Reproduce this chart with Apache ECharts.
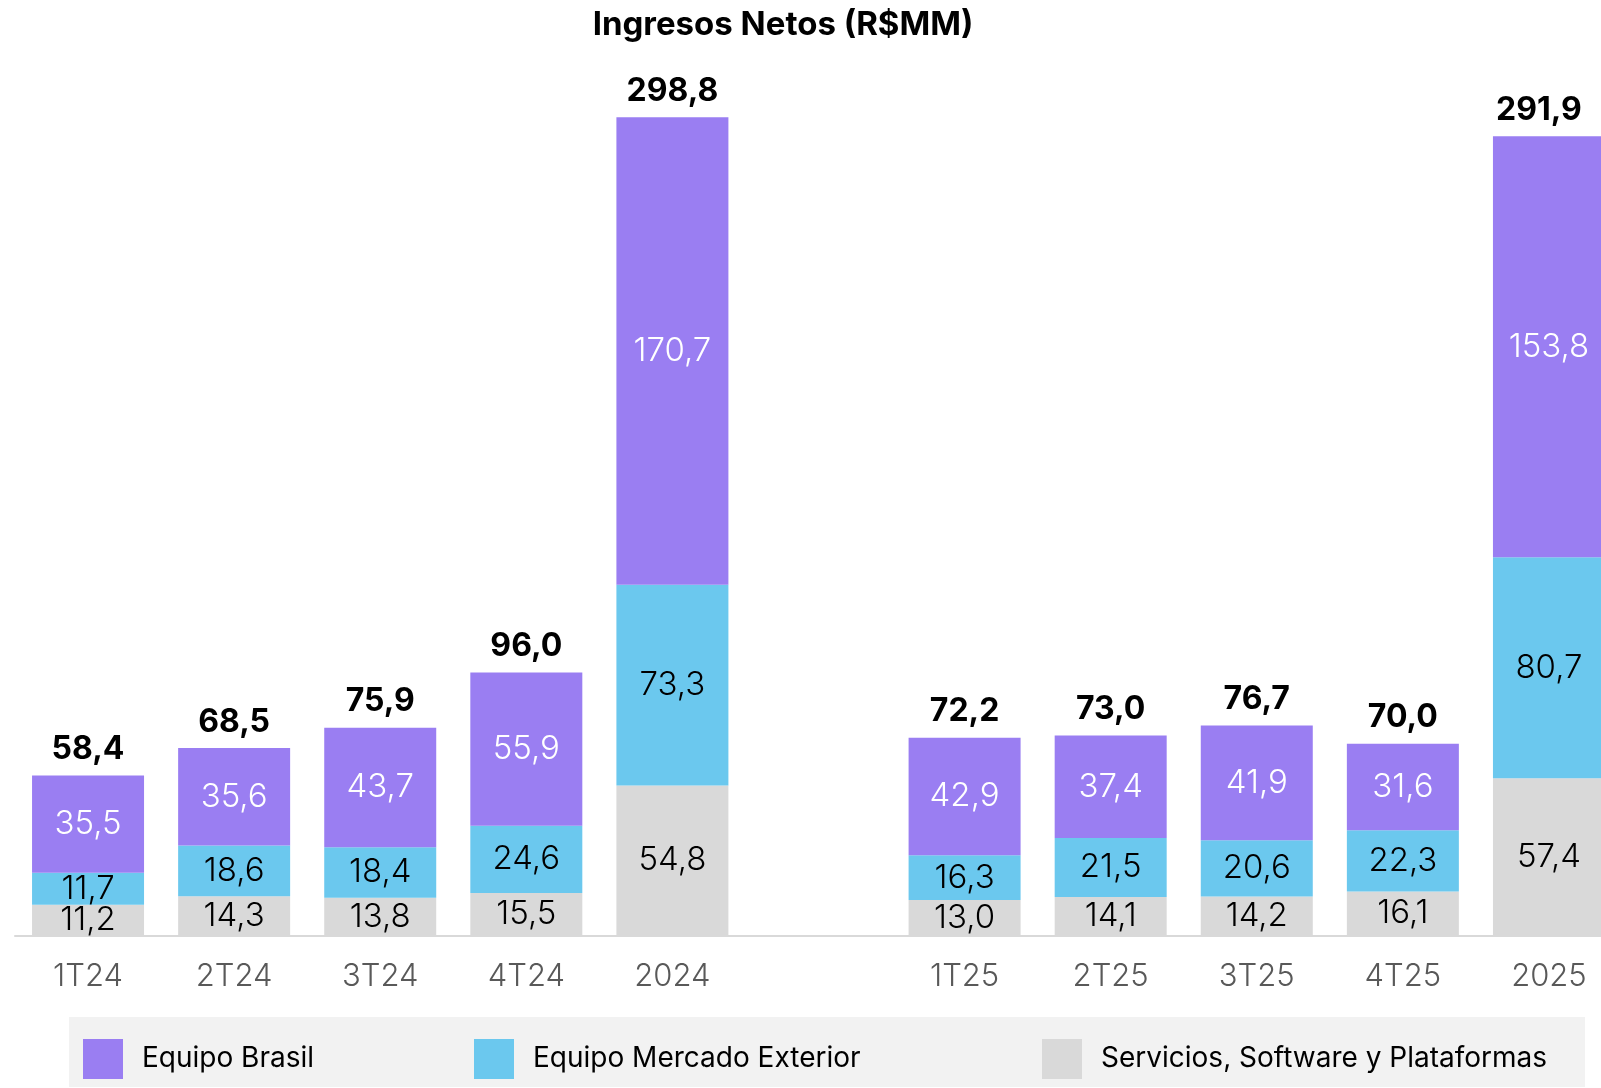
<!DOCTYPE html>
<html>
<head>
<meta charset="utf-8">
<title>Ingresos Netos (R$MM)</title>
<script src="https://cdn.jsdelivr.net/npm/echarts@6/dist/echarts.min.js"></script>
<style>
  html, body { margin: 0; padding: 0; background: #fff; }
  #chart { width: 1601px; height: 1088px; }
</style>
</head>
<body>
<div id="chart"></div>
<script>
// categories ('' is the empty slot between the two years)
const categories = ['1T24', '2T24', '3T24', '4T24', '2024', '', '1T25', '2T25', '3T25', '4T25', '2025'];

// series values (R$MM)
const servicios = [11.2, 14.3, 13.8, 15.5, 54.8, '-', 13.0, 14.1, 14.2, 16.1, 57.4];
const mercadoExterior = [11.7, 18.6, 18.4, 24.6, 73.3, '-', 16.3, 21.5, 20.6, 22.3, 80.7];
const equipoBrasil = [35.5, 35.6, 43.7, 55.9, 170.7, '-', 42.9, 37.4, 41.9, 31.6, 153.8];
const totals = [58.4, 68.5, 75.9, 96.0, 298.8, '-', 72.2, 73.0, 76.7, 70.0, 291.9];

const FONT = 'Inter, Roboto, sans-serif';

// numbers use a comma as decimal separator
function fmt(v) {
    return Number(v).toFixed(1).replace('.', ',');
}

function segLabel(color) {
    return {
        show: true,
        position: 'inside',
        color: color,
        fontFamily: FONT,
        fontSize: 33,
        fontWeight: 300,
        formatter: p => fmt(p.value)
    };
}

// last total label is nudged left so it stays inside the page
const totalData = totals.map((v, i) =>
    i === totals.length - 1 ? { value: v, label: { offset: [-10, 0] } } : v
);

const chart = echarts.init(document.getElementById('chart'), null, { renderer: 'canvas' });

const option = {
    animation: false,
    backgroundColor: '#fff',
    title: {
        text: 'Ingresos Netos (R$MM)',
        left: 783,
        textAlign: 'center',
        top: 9,
        padding: 0,
        textStyle: { fontFamily: FONT, fontSize: 33, fontWeight: 'bold', color: '#000' }
    },
    graphic: [{
        type: 'rect',
        z: -1,
        shape: { x: 69, y: 1017, width: 1516, height: 70 },
        style: { fill: '#F2F2F2' }
    }],
    legend: [
        { data: ['Equipo Brasil'], left: 83 },
        { data: ['Equipo Mercado Exterior'], left: 474 },
        { data: ['Servicios, Software y Plataformas'], left: 1042 }
    ].map(l => Object.assign(l, {
        top: 1039,
        padding: 0,
        itemWidth: 40,
        itemHeight: 40,
        icon: 'rect',
        selectedMode: false,
        textStyle: { fontFamily: FONT, fontSize: 28, color: '#000', padding: [0, 0, 0, 14] }
    })),
    // the last bar runs past the right edge, as in the source picture
    grid: { left: 15, width: 1607, top: 114, bottom: 152.5, outerBoundsMode: 'none' },
    xAxis: {
        type: 'category',
        data: categories,
        axisLine: { lineStyle: { color: '#D9D9D9', width: 2 } },
        axisTick: { show: false },
        axisLabel: { margin: 26, color: '#595959', fontFamily: FONT, fontSize: 31, fontWeight: 300 }
    },
    yAxis: {
        type: 'value',
        min: 0,
        max: 300,
        show: false,
        splitLine: { show: false }
    },
    series: [
        {
            name: 'Servicios, Software y Plataformas',
            type: 'bar',
            stack: 'total',
            barWidth: 112,
            data: servicios,
            itemStyle: { color: '#D9D9D9' },
            label: segLabel('#000')
        },
        {
            name: 'Equipo Mercado Exterior',
            type: 'bar',
            stack: 'total',
            barWidth: 112,
            data: mercadoExterior,
            itemStyle: { color: '#6BC8EE' },
            label: segLabel('#000')
        },
        {
            name: 'Equipo Brasil',
            type: 'bar',
            stack: 'total',
            barWidth: 112,
            data: equipoBrasil,
            itemStyle: { color: '#9A7EF2' },
            label: segLabel('#fff')
        },
        {
            // invisible line that only carries the total labels
            name: 'Total',
            type: 'line',
            data: totalData,
            symbol: 'circle',
            symbolSize: 0,
            silent: true,
            z: 5,
            lineStyle: { opacity: 0 },
            label: {
                show: true,
                position: 'top',
                distance: 10,
                color: '#000',
                fontFamily: FONT,
                fontSize: 32,
                fontWeight: 'bold',
                formatter: p => fmt(p.value)
            }
        }
    ]
};

chart.setOption(option);
</script>
</body>
</html>
